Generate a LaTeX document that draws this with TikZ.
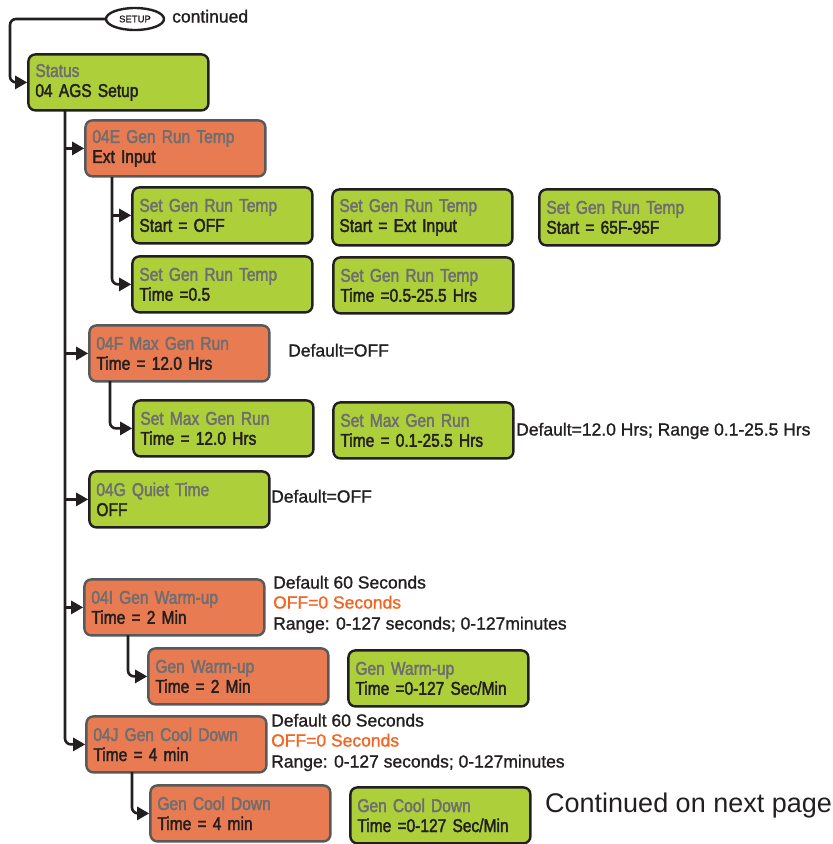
\documentclass[tikz,border=0pt]{standalone}
\usepackage{fontspec}
\setmainfont{Liberation Sans}
\newfontfamily\boxfont[FakeStretch=0.84,FakeBold=2,WordSpace=0.75]{Liberation Sans}
\newfontfamily\notefont[FakeBold=1.2]{Liberation Sans}
\usetikzlibrary{arrows.meta,shapes.geometric}
\definecolor{lgreen}{HTML}{ADCF3A}
\definecolor{lorange}{HTML}{E87B51}
\definecolor{tgray}{HTML}{6D6E71}
\definecolor{ink}{HTML}{231F20}
\definecolor{borderg}{HTML}{58595B}
\definecolor{offor}{HTML}{F26522}
\tikzset{
 bx/.style={rectangle, rounded corners=7pt, line width=2.4pt, minimum width=180pt, minimum height=56pt, text width=166pt, inner xsep=7pt, inner ysep=0pt, align=left, anchor=north west, xshift=1.2pt, yshift=-1.2pt, font=\boxfont\fontsize{18.5}{20}\selectfont, text=ink},
 gbox/.style={bx, draw=ink, fill=lgreen},
 obox/.style={bx, draw=borderg, fill=lorange},
 conn/.style={draw=ink, line width=2.6pt, rounded corners=6pt},
 arr/.style={conn, -{Triangle[length=12pt,width=13pt]}},
 note/.style={anchor=west, font=\notefont\fontsize{17.5}{20}\selectfont, text=ink, inner sep=0pt, text height=13pt, text depth=4pt},
}
\newcommand\ttl[1]{\textcolor{tgray}{#1}}
\begin{document}
\begin{tikzpicture}[x=1pt,y=-1pt]
\useasboundingbox (0,0) rectangle (833,844);
% header
\node[ellipse, draw=ink, line width=2.4pt, minimum width=58pt, minimum height=22pt, inner sep=0pt, font=\notefont\fontsize{9.5}{10}\selectfont, text=ink] (setup) at (135,19) {SETUP};
\node[note] (cont) at (172,18) {continued};
% boxes
\node[gbox] (status) at (26,52) {\ttl{Status}\\04 AGS Setup};
\node[obox] (e04) at (83,118) {\ttl{04E Gen Run Temp}\\Ext Input};
\node[gbox] (s1) at (130,185) {\ttl{Set Gen Run Temp}\\Start = OFF};
\node[gbox] (s2) at (330,187) {\ttl{Set Gen Run Temp}\\Start = Ext Input};
\node[gbox] (s3) at (537,187) {\ttl{Set Gen Run Temp}\\Start = 65F-95F};
\node[gbox] (s4) at (130,254) {\ttl{Set Gen Run Temp}\\Time =0.5};
\node[gbox] (s5) at (331,255) {\ttl{Set Gen Run Temp}\\Time =0.5-25.5 Hrs};
\node[obox] (f04) at (87,323) {\ttl{04F Max Gen Run}\\Time = 12.0 Hrs};
\node[gbox] (m1) at (131,398) {\ttl{Set Max Gen Run}\\Time = 12.0 Hrs};
\node[gbox] (m2) at (331,400) {\ttl{Set Max Gen Run}\\Time = 0.1-25.5 Hrs};
\node[gbox] (g04) at (87,469) {\ttl{04G Quiet Time}\\OFF};
\node[obox] (i04) at (82,577) {\ttl{04I Gen Warm-up}\\Time = 2 Min};
\node[obox] (w1) at (146,646) {\ttl{Gen Warm-up}\\Time = 2 Min};
\node[gbox] (w2) at (346,648) {\ttl{Gen Warm-up}\\Time =0-127 Sec/Min};
\node[obox] (j04) at (84,714) {\ttl{04J Gen Cool Down}\\Time = 4 min};
\node[obox] (c1) at (148,783) {\ttl{Gen Cool Down}\\Time = 4 min};
\node[gbox] (c2) at (348,785) {\ttl{Gen Cool Down}\\Time =0-127 Sec/Min};
% notes
\node[note] (nf) at (288,352) {Default=OFF};
\node[note] (nm) at (516,431) {Default=12.0 Hrs; Range 0.1-25.5 Hrs};
\node[note] (ng) at (271,498) {Default=OFF};
\node[note] (ni1) at (273,584) {Default 60 Seconds};
\node[note, text=offor] (ni2) at (273,604) {OFF=0 Seconds};
\node[note] (ni3) at (273,625) {Range: 0-127 seconds; 0-127minutes};
\node[note] (nj1) at (271,722) {Default 60 Seconds};
\node[note, text=offor] (nj2) at (271,742) {OFF=0 Seconds};
\node[note] (nj3) at (271,763) {Range: 0-127 seconds; 0-127minutes};
\node[anchor=west, inner sep=0pt, font=\fontsize{27}{30}\selectfont, text=ink] (next) at (545,806) {Continued on next page};
% connectors
\coordinate (c0) at (10,19);
\draw[arr] (setup.west) -- (c0) |- (status.west);
\coordinate (t0) at (65,110);
\draw[arr] (t0) |- (j04.west);
\draw[arr] (t0 |- e04.west) -- (e04.west);
\draw[arr] (t0 |- f04.west) -- (f04.west);
\draw[arr] (t0 |- g04.west) -- (g04.west);
\draw[arr] (t0 |- i04.west) -- (i04.west);
\coordinate (e1) at (112,177);
\draw[arr] (e1) |- (s4.west);
\draw[arr] (e1 |- s1.west) -- (s1.west);
\coordinate (f1) at (110,381);
\draw[arr] (f1) |- (m1.west);
\coordinate (i1) at (128,635);
\draw[arr] (i1) |- (w1.west);
\coordinate (j1) at (132,772);
\draw[arr] (j1) |- (c1.west);
\end{tikzpicture}
\end{document}
